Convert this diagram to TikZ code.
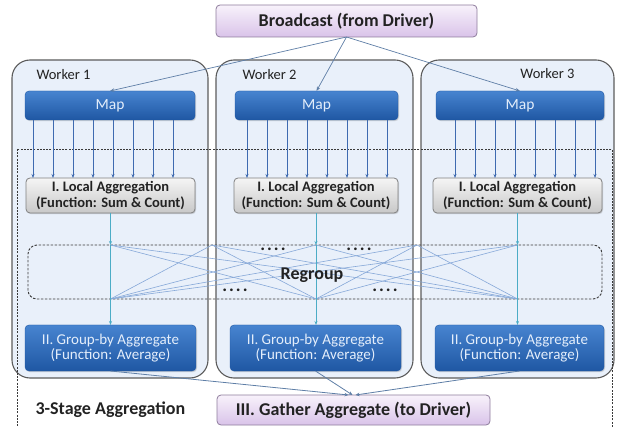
\documentclass[tikz,border=0pt]{standalone}
\usepackage{fontspec}
\setmainfont{Carlito}
\usetikzlibrary{arrows.meta,calc,shadows}

\definecolor{workerfill}{HTML}{E9F0FA}
\definecolor{workerline}{HTML}{5C5C5C}
\definecolor{maptop}{HTML}{4784D0}
\definecolor{mapbot}{HTML}{1F57A3}
\definecolor{maptext}{HTML}{E4EEFB}
\definecolor{aggtop}{HTML}{F5F5F5}
\definecolor{aggbot}{HTML}{C8C8C8}
\definecolor{aggline}{HTML}{808080}
\definecolor{lilactop}{HTML}{F8F2FB}
\definecolor{lilacbot}{HTML}{D9C3E9}
\definecolor{lilacline}{HTML}{8E7C9C}
\definecolor{textdark}{HTML}{222222}
\definecolor{arrowblue}{HTML}{3E6AB0}
\definecolor{bcline}{HTML}{5E7EA6}
\definecolor{shuffleblue}{HTML}{86A8D8}
\definecolor{flowteal}{HTML}{4BACC6}
\definecolor{dashgray}{HTML}{3A3A3A}

\begin{document}
\begin{tikzpicture}[x=1pt,y=-1pt,
	box/.style={inner sep=0pt, outer sep=0pt, align=center, rounded corners=4pt},
	lilac/.style={box, draw=lilacline, line width=0.8pt, top color=lilactop, bottom color=lilacbot, text=textdark, font=\fontsize{18}{20}\selectfont\bfseries},
	worker/.style={draw=workerline, line width=1.1pt, fill=workerfill, rounded corners=18pt, minimum height=318pt, anchor=north west, inner sep=0pt, outer sep=0pt},
	wlabel/.style={text=textdark, font=\fontsize{14.5}{16}\selectfont},
	bluebox/.style={box, draw=mapbot, top color=maptop, bottom color=mapbot, text=maptext, drop shadow={opacity=0.3, shadow xshift=1pt, shadow yshift=-1.2pt}},
	graybox/.style={box, draw=aggline, line width=0.8pt, top color=aggtop, bottom color=aggbot, text=textdark, font=\fontsize{14.5}{15.5}\selectfont\bfseries, drop shadow={opacity=0.3, shadow xshift=1pt, shadow yshift=-1.2pt}},
	regroupbox/.style={draw=dashgray, line width=0.9pt, dash pattern=on 2.5pt off 1.5pt, rounded corners=9pt, inner sep=0pt, outer sep=0pt},
	outerdash/.style={draw=dashgray, line width=0.8pt, dash pattern=on 2pt off 1.2pt},
	maparrow/.style={draw=arrowblue, line width=0.6pt, -{Stealth[length=4pt,width=3pt]}},
	bcarrow/.style={draw=bcline, line width=0.7pt, -{Stealth[length=4.5pt,width=3.5pt]}},
	shuffle/.style={draw=shuffleblue, line width=0.6pt},
	flowline/.style={draw=flowteal, line width=0.7pt},
	flowarrow/.style={flowline, -{Stealth[length=4pt,width=3pt]}},
	gatherarrow/.style={draw=bcline, line width=0.8pt, -{Stealth[length=4pt,width=3.5pt]}},
	bigbold/.style={text=textdark, font=\fontsize{18}{20}\selectfont\bfseries},
	]
	\useasboundingbox (0,0) rectangle (618,427);

	\node[lilac, minimum width=261pt, minimum height=32pt] (bcast) at (346.5,21) {Broadcast (from Driver)};

	\node[worker, minimum width=196pt] (w1) at (12,60) {};
	\node[worker, minimum width=197pt] (w2) at (216,60) {};
	\node[worker, minimum width=193pt] (w3) at (421,60) {};
	\node[wlabel, anchor=west] (wl1) at (33,75) {Worker 1};
	\node[wlabel, anchor=west] (wl2) at (239,75) {Worker 2};
	\node[wlabel, anchor=east] (wl3) at (578,74) {Worker 3};

	\draw[outerdash] (17,149) rectangle (612,440);

	\node[bluebox, font=\fontsize{15.5}{17}\selectfont, minimum width=170pt, minimum height=29pt] (map1) at (110,105.5) {Map};
	\node[bluebox, font=\fontsize{15.5}{17}\selectfont, minimum width=163pt, minimum height=29pt] (map2) at (316.5,105.5) {Map};
	\node[bluebox, font=\fontsize{15.5}{17}\selectfont, minimum width=168pt, minimum height=29pt] (map3) at (520,105.5) {Map};

	\node[graybox, minimum width=169pt, minimum height=35pt] (lagg1) at (110.5,195.5) {I. Local Aggregation\\(Function: Sum \& Count)};
	\node[graybox, minimum width=164pt, minimum height=35pt] (lagg2) at (316,195.5) {I. Local Aggregation\\(Function: Sum \& Count)};
	\node[graybox, minimum width=169pt, minimum height=35pt] (lagg3) at (517.5,195.5) {I. Local Aggregation\\(Function: Sum \& Count)};

	\node[regroupbox, minimum width=574pt, minimum height=54pt] (regroup) at (315,272) {};

	\node[bluebox, font=\fontsize{15}{15.5}\selectfont, minimum width=171pt, minimum height=46pt] (grp1) at (110.5,348) {II. Group-by Aggregate\\(Function: Average)};
	\node[bluebox, font=\fontsize{15}{15.5}\selectfont, minimum width=171pt, minimum height=46pt] (grp2) at (315.5,348) {II. Group-by Aggregate\\(Function: Average)};
	\node[bluebox, font=\fontsize{15}{15.5}\selectfont, minimum width=169pt, minimum height=46pt] (grp3) at (519.5,348) {II. Group-by Aggregate\\(Function: Average)};

	\node[lilac, minimum width=273pt, minimum height=30pt] (gather) at (353.5,410) {III. Gather Aggregate (to Driver)};
	\node[bigbold, anchor=west] (stage) at (32,410) {3-Stage Aggregation};

	\foreach \m in {map1,map2,map3}
		\draw[bcarrow] (bcast.south) -- (\m.north);

	\foreach \m/\a/\xs in {map1/lagg1/33, map2/lagg2/247, map3/lagg3/455}
		\foreach \i in {0,...,7} {
			\coordinate (p) at (\xs+20*\i,0);
			\draw[maparrow] (p |- \m.south) -- (p |- \a.north);
		}

	\coordinate (gapA) at ($(w1.north east)!0.5!(w2.north west)$);
	\coordinate (gapB) at ($(w2.north east)!0.5!(w3.north west)$);
	\coordinate (ta) at (gapA |- regroup.north);
	\coordinate (tb) at (gapB |- regroup.north);
	\foreach \k in {1,2,3} {
		\coordinate (t\k) at (lagg\k.south |- regroup.north);
		\coordinate (b\k) at (lagg\k.south |- regroup.south);
	}
	\foreach \t in {t1,ta,t2,tb,t3}
		\foreach \b in {b1,b2,b3}
			\draw[shuffle] (\t) -- (\b);

	\foreach \k in {1,2,3} {
		\draw[flowarrow] (lagg\k.south) -- (t\k);
		\draw[flowline] (t\k) -- (b\k);
		\draw[flowarrow] (b\k) -- (b\k |- grp\k.north);
	}

	\node[bigbold] (rglabel) at (312,275) {Regroup};
	\node[bigbold] (dotsA) at (273,249) {.\kern2pt.\kern2pt.\kern2pt.};
	\node[bigbold] (dotsB) at (359,249) {.\kern2pt.\kern2pt.\kern2pt.};
	\node[bigbold] (dotsC) at (235,290) {.\kern2pt.\kern2pt.\kern2pt.};
	\node[bigbold] (dotsD) at (385,290) {.\kern2pt.\kern2pt.\kern2pt.};

	\draw[gatherarrow] (grp1.south) -- ([xshift=-5pt]gather.north);
	\draw[gatherarrow] (grp2.south) -- ([xshift=-1pt]gather.north);
	\draw[gatherarrow] (grp3.south) -- ([xshift=2pt]gather.north);
\end{tikzpicture}
\end{document}
